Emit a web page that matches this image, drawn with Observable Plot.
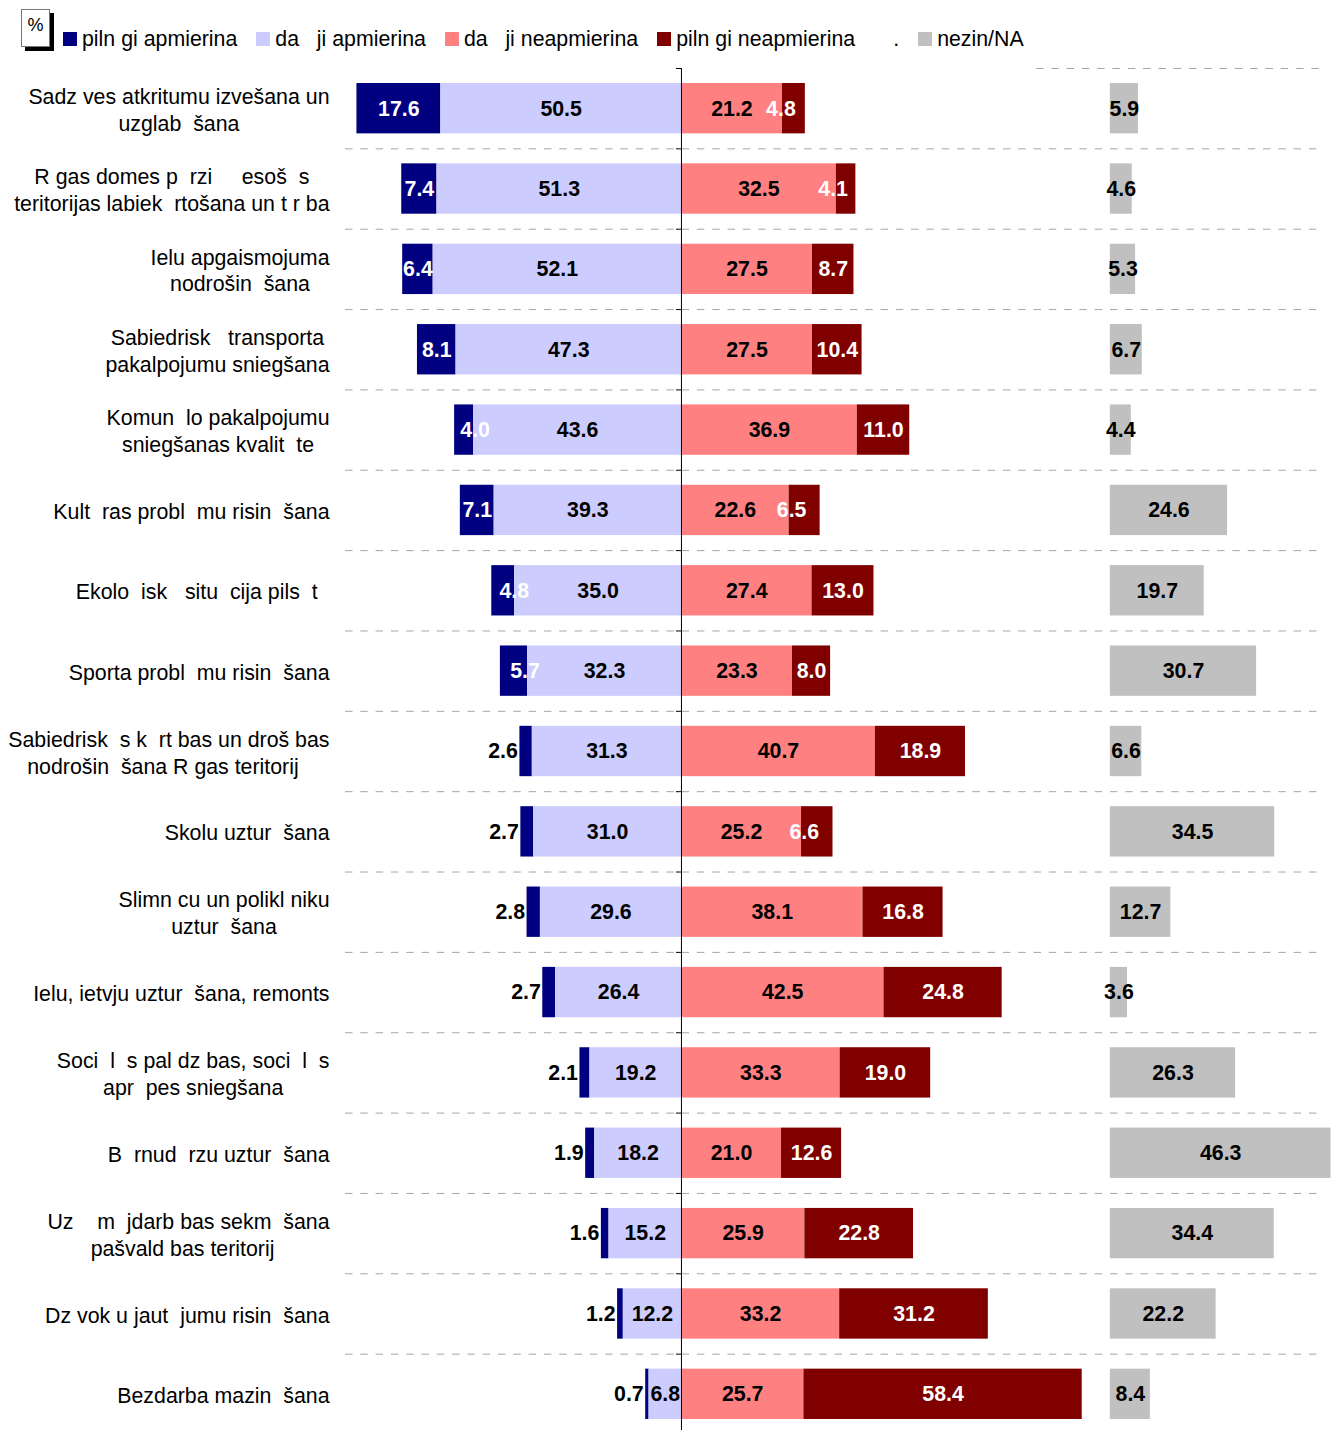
<!DOCTYPE html>
<html>
<head>
<meta charset="utf-8">
<script src="https://cdn.jsdelivr.net/npm/d3@7"></script>
<script src="https://cdn.jsdelivr.net/npm/@observablehq/plot@0.6"></script>
<style>
  html, body { margin: 0; padding: 0; background: #fff; overflow: hidden; }
  body { width: 1334px; height: 1430px; position: relative; font-family: 'Liberation Sans', Arial, sans-serif; }
  svg text { white-space: pre; }
  #pct { position: absolute; left: 21px; top: 9px; width: 27px; height: 36px; border: 1px solid #777; background: #fff;
         box-shadow: 4px 4px 0 #000; font-size: 18px; text-align: center; line-height: 30px; }
  #legend { position: absolute; left: 63px; top: 27px; display: flex; font-size: 21.333px; line-height: 24px; white-space: pre; color: #000; }
  #legend .item { margin-right: 19px; }
  #legend .sw { display: inline-block; width: 14px; height: 14px; margin-right: 5px; vertical-align: baseline; }
  #chart { position: absolute; left: 0; top: 60px; }
</style>
</head>
<body>
<div id="pct">%</div>
<div id="legend"></div>
<div id="chart"></div>
<script>
// ---------- data ----------
const categories = [
  "Sadz ves atkritumu izvešana un\nuzglab  šana",
  "R gas domes p  rzi     esoš  s\nteritorijas labiek  rtošana un t r ba",
  "Ielu apgaismojuma\nnodrošin  šana",
  "Sabiedrisk   transporta\npakalpojumu sniegšana",
  "Komun  lo pakalpojumu\nsniegšanas kvalit  te",
  "Kult  ras probl  mu risin  šana",
  "Ekolo  isk   situ  cija pils  t  ",
  "Sporta probl  mu risin  šana",
  "Sabiedrisk  s k  rt bas un droš bas\nnodrošin  šana R gas teritorij  ",
  "Skolu uztur  šana",
  "Slimn cu un polikl niku\nuztur  šana",
  "Ielu, ietvju uztur  šana, remonts",
  "Soci  l  s pal dz bas, soci  l  s\napr  pes sniegšana",
  "B  rnud  rzu uztur  šana",
  "Uz    m  jdarb bas sekm  šana\npašvald bas teritorij  ",
  "Dz vok u jaut  jumu risin  šana",
  "Bezdarba mazin  šana"
];
const fullySatisfied   = [17.6, 7.4, 6.4, 8.1, 4.0, 7.1, 4.8, 5.7, 2.6, 2.7, 2.8, 2.7, 2.1, 1.9, 1.6, 1.2, 0.7];
const partlySatisfied  = [50.5, 51.3, 52.1, 47.3, 43.6, 39.3, 35.0, 32.3, 31.3, 31.0, 29.6, 26.4, 19.2, 18.2, 15.2, 12.2, 6.8];
const partlyUnsatisfied= [21.2, 32.5, 27.5, 27.5, 36.9, 22.6, 27.4, 23.3, 40.7, 25.2, 38.1, 42.5, 33.3, 21.0, 25.9, 33.2, 25.7];
const fullyUnsatisfied = [4.8, 4.1, 8.7, 10.4, 11.0, 6.5, 13.0, 8.0, 18.9, 6.6, 16.8, 24.8, 19.0, 12.6, 22.8, 31.2, 58.4];
const dontKnow         = [5.9, 4.6, 5.3, 6.7, 4.4, 24.6, 19.7, 30.7, 6.6, 34.5, 12.7, 3.6, 26.3, 46.3, 34.4, 22.2, 8.4];

const legendLabels = ["piln gi apmierina", "da   ji apmierina", "da   ji neapmierina", "piln gi neapmierina", ".", "nezin/NA"];
const legendColors = ["#000080", "#CCCCFF", "#FF8080", "#800000", "transparent", "#C0C0C0"];

// ---------- layout ----------
const W = 1334, H = 1374;
const mL = 345, mR = 4, mT = 8, mB = 0;
const xDomain = [-70.5, 136.2];
const naOffset = 90;             // where the "nezin/NA" bars start
const labelGap = 16;             // gap between category labels and plot frame
const FS = 21.333;
const fmt = d3.format(".1f");

// legend
const lg = d3.select("#legend");
legendLabels.forEach((t, i) => {
  const it = lg.append("span").attr("class", "item");
  it.append("span").attr("class", "sw").style("background", legendColors[i]);
  it.append("span").text(t);
});

// rows
const rows = categories.map((c, i) => ({
  i, label: c,
  a: fullySatisfied[i], b: partlySatisfied[i], c: partlyUnsatisfied[i], d: fullyUnsatisfied[i], e: dontKnow[i]
}));

// label placement: lines centered, block right-aligned to the plot frame
const ctx = document.createElement("canvas").getContext("2d");
ctx.font = `${FS}px 'Liberation Sans', Arial`;
const xPix = d3.scaleLinear(xDomain, [mL, W - mR]);
rows.forEach(r => {
  const w = d3.max(r.label.split("\n"), l => ctx.measureText(l).width);
  r.lx = xPix.invert(mL - labelGap - w / 2);
});

const bandInset = 15;
const barOpts = (x1, x2, fill) => ({x1, x2, y1: "i", y2: d => d.i + 1, insetTop: bandInset, insetBottom: bandInset, fill});
const mid = d => d.i + 0.5;
const valText = {fontSize: FS, fontWeight: "bold", lineAnchor: "middle"};
const narrowA = 6, narrowD = 7;   // narrow segments get their label nudged toward the centre line

const plot = Plot.plot({
  width: W, height: H,
  marginLeft: mL, marginRight: mR, marginTop: mT, marginBottom: mB,
  x: {domain: xDomain, axis: null},
  y: {domain: [0, categories.length], reverse: true, axis: null},
  style: {fontFamily: "'Liberation Sans', Arial, sans-serif", fontSize: FS + "px", background: "#fff", overflow: "visible"},
  marks: [
    // dashed row separators
    Plot.ruleY([0], {x1: 74.5, x2: 134.5, stroke: "#a6a6a6", strokeWidth: 1, strokeDasharray: "7.5,7.8"}),
    Plot.ruleY(d3.range(1, categories.length), {x1: xDomain[0], x2: 134.5, stroke: "#a6a6a6", strokeWidth: 1, strokeDasharray: "7.5,7.8"}),
    // bars
    Plot.rect(rows, barOpts(d => -(d.a + d.b), d => -d.b, "#000080")),
    Plot.rect(rows, barOpts(d => -d.b, 0, "#CCCCFF")),
    Plot.rect(rows, barOpts(0, d => d.c, "#FF8080")),
    Plot.rect(rows, barOpts(d => d.c, d => d.c + d.d, "#800000")),
    Plot.rect(rows, barOpts(naOffset, d => naOffset + d.e, "#C0C0C0")),
    // center axis with small ticks
    Plot.ruleX([0], {y1: 0, y2: categories.length, stroke: "#000", strokeWidth: 1}),
    Plot.ruleY(d3.range(0, categories.length), {x1: -1.05, x2: 0, stroke: "#000", strokeWidth: 1}),
    // value labels
    Plot.text(rows.filter(d => d.a >= narrowA), {x: d => -(d.b + d.a / 2), y: mid, text: d => fmt(d.a), fill: "#fff", ...valText}),
    Plot.text(rows.filter(d => d.a >= 3.5 && d.a < narrowA), {x: d => -(d.b + d.a / 2), y: mid, text: d => fmt(d.a), fill: "#fff", dx: 11, ...valText}),
    Plot.text(rows.filter(d => d.a < 3.5), {x: d => -(d.a + d.b), y: mid, text: d => fmt(d.a), fill: "#000", textAnchor: "end", dx: -2, ...valText}),
    Plot.text(rows, {x: d => -d.b / 2, y: mid, text: d => fmt(d.b), fill: "#000", ...valText}),
    Plot.text(rows, {x: d => d.c / 2, y: mid, text: d => fmt(d.c), fill: "#000", ...valText}),
    Plot.text(rows.filter(d => d.d >= narrowD), {x: d => d.c + d.d / 2, y: mid, text: d => fmt(d.d), fill: "#fff", ...valText}),
    Plot.text(rows.filter(d => d.d < narrowD), {x: d => d.c + d.d / 2, y: mid, text: d => fmt(d.d), fill: "#fff", dx: -13, ...valText}),
    Plot.text(rows, {x: d => naOffset + d.e / 2, y: mid, text: d => fmt(d.e), fill: "#000", ...valText}),
    // category labels
    Plot.text(rows, {x: "lx", y: mid, text: "label", textAnchor: "middle", lineAnchor: "middle", lineHeight: 1.26, fontSize: FS, fill: "#000"})
  ]
});
document.getElementById("chart").appendChild(plot);
</script>
</body>
</html>
